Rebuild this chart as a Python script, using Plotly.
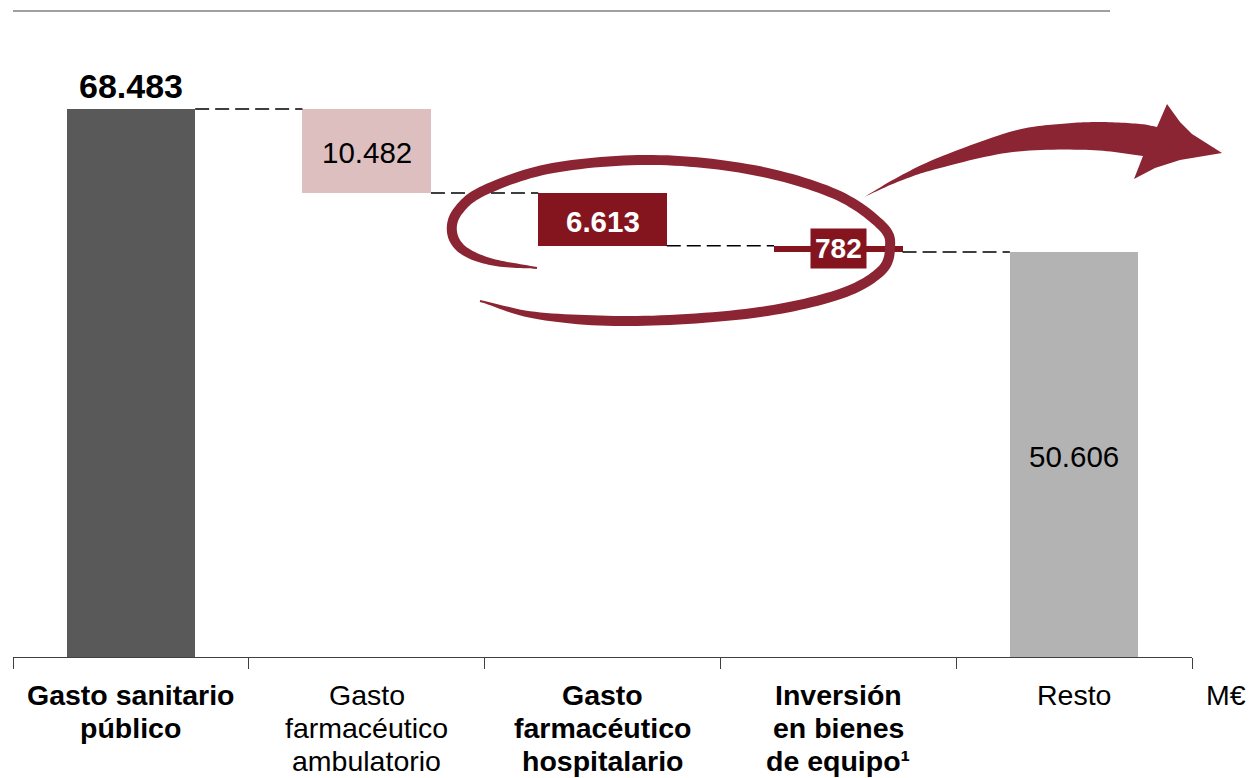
import numpy as np
import plotly.graph_objects as go

# ---------------- data ----------------
categories = ["Gasto sanitario<br>público",
              "Gasto<br>farmacéutico<br>ambulatorio",
              "Gasto<br>farmacéutico<br>hospitalario",
              "Inversión<br>en bienes<br>de equipo¹",
              "Resto"]
values = [68483, -10482, -6613, -782, 50606]
kinds = ["total", "delta", "delta", "delta", "total"]
bold_flags = [True, False, True, True, False]
unit_label = "M€"

bar_colors = ["#595959", "#DDBFC0", "#84151F", "#84151F", "#B3B3B3"]
label_colors = ["#000000", "#000000", "#FFFFFF", "#FFFFFF", "#000000"]
swoosh_color = "#8B2533"
FONT = "Liberation Sans, Arial, sans-serif"

# ---------------- waterfall geometry from data ----------------
bases, heights, levels = [], [], []
running = 0
for v, k in zip(values, kinds):
    if k == "total":
        bases.append(0)
        heights.append(v)
        running = v
    else:
        bases.append(running + v)
        heights.append(-v)
        running = running + v
    levels.append(running)

xs = list(range(len(categories)))
BW = 0.545

def fmt(v):
    return f"{abs(v):,}".replace(",", ".")

fig = go.Figure()
fig.add_trace(go.Bar(x=xs, y=heights, base=bases, width=BW,
                     marker=dict(color=bar_colors, line=dict(width=0)),
                     hoverinfo="skip", showlegend=False))

# connectors
cx, cy = [], []
for i in range(len(xs) - 1):
    cx += [xs[i] + BW / 2, xs[i + 1] - BW / 2, None]
    cy += [levels[i], levels[i], None]
fig.add_trace(go.Scatter(x=cx, y=cy, mode="lines",
                         line=dict(color="#000000", width=1.5, dash="14px,6px"),
                         hoverinfo="skip", showlegend=False))

# ---------------- pixel <-> paper helpers for decorations ----------------
L, R, T, B = 13, 1192, 11, 657
W, H = R - L, B - T
YMAX = values[0] * H / (B - 109)

def pp(px, py):
    return (px - L) / W, (B - py) / H

def catmull(pts, n=14):
    pts = np.array(pts, float)
    ext = np.vstack([pts[0] * 2 - pts[1], pts, pts[-1] * 2 - pts[-2]])
    out = []
    for i in range(1, len(ext) - 2):
        p0, p1, p2, p3 = ext[i - 1], ext[i], ext[i + 1], ext[i + 2]
        for t in np.linspace(0, 1, n, endpoint=False):
            t2, t3 = t * t, t * t * t
            out.append(0.5 * ((2 * p1) + (-p0 + p2) * t + (2 * p0 - 5 * p1 + 4 * p2 - p3) * t2
                              + (-p0 + 3 * p1 - 3 * p2 + p3) * t3))
    out.append(pts[-1])
    return np.array(out)

def path_from(poly):
    s = []
    for j, (px, py) in enumerate(poly):
        x, y = pp(px, py)
        s.append(("M" if j == 0 else "L") + f"{x:.5f},{y:.5f}")
    return " ".join(s) + " Z"

# ellipse swoosh
ell_pts = [(537, 268), (492, 262), (463, 250), (452, 232), (458, 211), (485, 190),
           (553, 168), (653, 160), (753, 170), (835, 194), (882, 226), (890, 248),
           (880, 272), (837, 295), (753, 313), (637, 321), (540, 316), (480, 301)]
c = catmull(ell_pts)
d = np.gradient(c, axis=0)
seg = np.r_[0, np.cumsum(np.hypot(np.diff(c[:, 0]), np.diff(c[:, 1])))]
u = seg / seg[-1]
w = 10.0 * np.clip(np.minimum(u / 0.09, (1 - u) / 0.11), 0.06, 1) ** 0.55
nrm = np.stack([-d[:, 1], d[:, 0]], axis=1)
nrm /= np.linalg.norm(nrm, axis=1, keepdims=True)
left = c + nrm * (w[:, None] / 2)
right = c - nrm * (w[:, None] / 2)
ell_poly = np.vstack([left, right[::-1]])

# arrow
upper = catmull([(864, 197), (900, 176), (940, 157), (1013, 131), (1060, 124),
                 (1100, 122), (1140, 124), (1157, 127)])
lower = catmull([(1143, 156), (1090, 150), (1013, 152), (940, 168), (900, 181), (864, 197)])
head = np.array([(1167, 104), (1180, 122), (1192, 134), (1222, 153), (1180, 160),
                 (1155, 168), (1134, 179)])
arrow_poly = np.vstack([upper, head, lower])

shapes = [
    dict(type="path", xref="paper", yref="paper", path=path_from(ell_poly),
         fillcolor=swoosh_color, line=dict(width=0), layer="above"),
    dict(type="path", xref="paper", yref="paper", path=path_from(arrow_poly),
         fillcolor=swoosh_color, line=dict(width=0), layer="above"),
    dict(type="line", xref="paper", yref="paper", x0=pp(13, 11)[0], x1=pp(1110, 11)[0],
         y0=1, y1=1, line=dict(color="#7F7F7F", width=1.5)),
]

annotations = []
# value labels
for i in xs:
    txt = fmt(values[i])
    if bold_flags[i]:
        txt = f"<b>{txt}</b>"
    if i == 0:
        annotations.append(dict(x=i, y=bases[i] + heights[i], xref="x", yref="y",
                                text=txt, showarrow=False, yanchor="bottom", yshift=2,
                                font=dict(family=FONT, size=34, color=label_colors[i])))
    elif i == 3:
        annotations.append(dict(x=i, y=bases[i] + heights[i] / 2, xref="x", yref="y",
                                text=txt, showarrow=False, yanchor="middle",
                                bgcolor=bar_colors[i], borderpad=4,
                                font=dict(family=FONT, size=28, color=label_colors[i])))
    else:
        annotations.append(dict(x=i, y=bases[i] + heights[i] / 2, xref="x", yref="y",
                                text=txt, showarrow=False, yanchor="middle", yshift=-2,
                                font=dict(family=FONT, size=29.5, color=label_colors[i])))

# category labels (one annotation per line for exact spacing)
for i, cat in enumerate(categories):
    for k, line in enumerate(cat.split("<br>")):
        t = f"<b>{line}</b>" if bold_flags[i] else line
        annotations.append(dict(x=i, xref="x", y=pp(0, 695 + 33 * k)[1], yref="paper",
                                text=t, showarrow=False, yanchor="middle",
                                font=dict(family=FONT, size=28.5, color="#000000")))
annotations.append(dict(x=pp(1226, 0)[0], xref="paper", xanchor="center",
                        y=pp(0, 695)[1], yref="paper",
                        text=unit_label, showarrow=False, yanchor="middle",
                        font=dict(family=FONT, size=28.5, color="#000000")))

fig.update_layout(
    width=1256, height=778,
    margin=dict(l=L, r=1256 - R, t=T, b=778 - B),
    plot_bgcolor="white", paper_bgcolor="white",
    xaxis=dict(range=[-0.5, 4.5], tickvals=[-0.5, 0.5, 1.5, 2.5, 3.5, 4.5],
               showticklabels=False, ticks="outside", ticklen=11, tickwidth=1.2,
               tickcolor="#404040", showline=True, linecolor="#404040", linewidth=1.2,
               showgrid=False, zeroline=False, fixedrange=True),
    yaxis=dict(range=[0, YMAX], visible=False, showgrid=False, zeroline=False,
               fixedrange=True),
    shapes=shapes, annotations=annotations, bargap=0,
    font=dict(family=FONT),
)

fig.write_html("out.html", config={"displayModeBar": False},
               post_script="document.body.style.margin='0';document.body.style.overflow='hidden';")
